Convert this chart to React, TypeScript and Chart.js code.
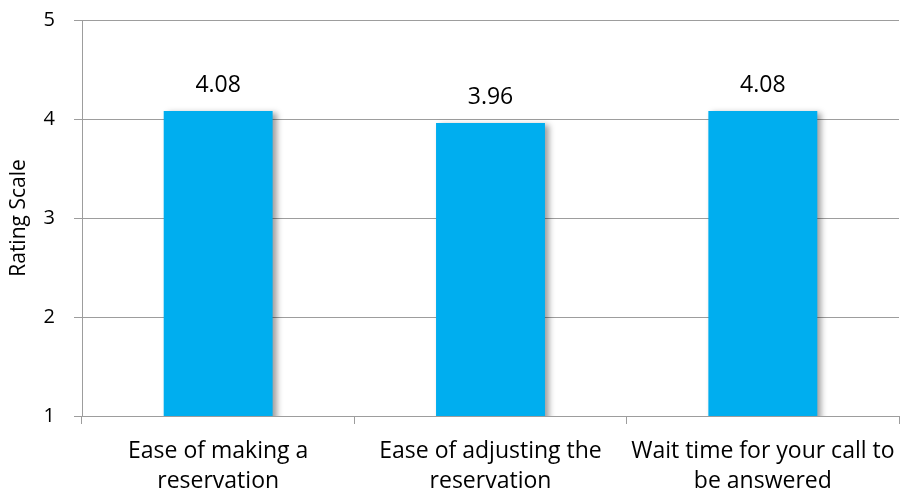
import React, { useEffect, useRef } from "react";
import { Chart, registerables } from "chart.js";

Chart.register(...registerables);

const categories: string[][] = [
  ["Ease of making a", "reservation"],
  ["Ease of adjusting the", "reservation"],
  ["Wait time for your call to", "be answered"],
];
const ratings: number[] = [4.08, 3.96, 4.08];
const yTicks: number[] = [1, 2, 3, 4, 5];

const FONT = "'Open Sans', Lato, sans-serif";
const GRID = "#9d9d9d";
const BAR = "#00AEEF";

// Soft drop shadow to the lower right of each bar
const barShadow = {
  id: "barShadow",
  beforeDatasetsDraw(chart: any) {
    const ctx = chart.ctx;
    ctx.save();
    ctx.shadowColor = "rgba(0,0,0,0.38)";
    ctx.shadowBlur = 6;
    ctx.shadowOffsetX = 4;
    ctx.shadowOffsetY = 2;
  },
  afterDatasetsDraw(chart: any) {
    chart.ctx.restore();
  },
};

// Value printed above each bar
const valueLabels = {
  id: "valueLabels",
  afterDatasetsDraw(chart: any) {
    const ctx = chart.ctx;
    const meta = chart.getDatasetMeta(0);
    ctx.save();
    ctx.font = `23px ${FONT}`;
    ctx.fillStyle = "#000";
    ctx.textAlign = "center";
    ctx.textBaseline = "alphabetic";
    meta.data.forEach((bar: any, i: number) => {
      ctx.fillText(ratings[i].toFixed(2), bar.x, bar.y - 19);
    });
    ctx.restore();
  },
};

export default function App() {
  const ref = useRef<HTMLCanvasElement | null>(null);

  useEffect(() => {
    document.body.style.margin = "0";
    const chart = new Chart(ref.current as HTMLCanvasElement, {
      type: "bar",
      data: {
        labels: categories,
        datasets: [
          {
            data: ratings,
            backgroundColor: BAR,
            borderWidth: 0,
            barPercentage: 0.4,
            categoryPercentage: 1,
          },
        ],
      },
      options: {
        responsive: false,
        animation: false,
        layout: { padding: { top: 20, right: 3, left: 0, bottom: 0 } },
        plugins: {
          legend: { display: false },
          tooltip: { enabled: false },
        },
        scales: {
          x: {
            offset: true,
            grid: {
              display: true,
              offset: true,
              drawOnChartArea: false,
              tickLength: 8,
              color: GRID,
            },
            border: { display: true, color: GRID },
            ticks: {
              color: "#000",
              padding: 12,
              maxRotation: 0,
              autoSkip: false,
              font: { family: FONT, size: 23, lineHeight: "30px" },
            },
            afterFit(scale: any) {
              scale.height = 80;
              scale.paddingLeft = 0;
              scale.paddingRight = 0;
            },
          },
          y: {
            min: 1,
            max: 5,
            afterBuildTicks(scale: any) {
              scale.ticks = yTicks.map((v) => ({ value: v }));
            },
            grid: { color: GRID, tickLength: 8 },
            border: { display: true, color: GRID },
            ticks: {
              color: "#000",
              padding: 19,
              font: { family: FONT, size: 20 },
            },
            title: {
              display: true,
              text: "Rating Scale",
              color: "#000",
              padding: { top: 6, bottom: 0 },
              font: { family: FONT, size: 21 },
            },
            afterFit(scale: any) {
              scale.width = 82;
              scale.paddingTop = 0;
              scale.paddingBottom = 0;
            },
          },
        },
      },
      plugins: [barShadow, valueLabels],
    });
    return () => chart.destroy();
  }, []);

  return (
    <div style={{ position: "absolute", left: 0, top: 0, width: 902, height: 496 }}>
      <canvas ref={ref} width={902} height={496} />
    </div>
  );
}
